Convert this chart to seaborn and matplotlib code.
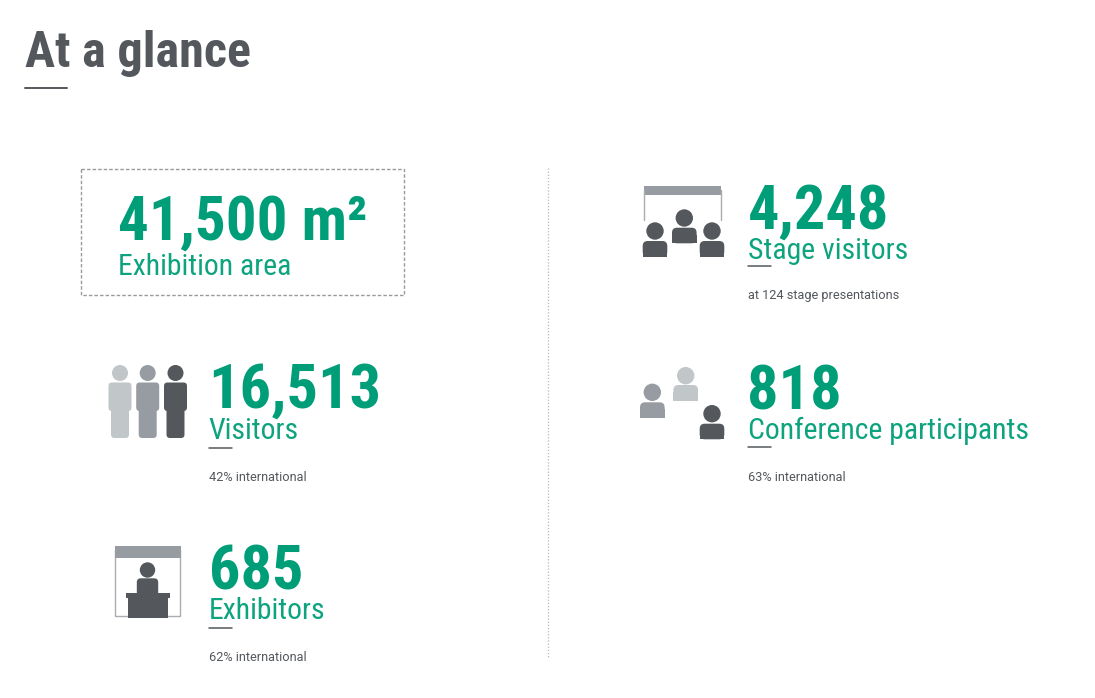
import seaborn as sns
import matplotlib.pyplot as plt
from matplotlib.patches import Circle, FancyBboxPatch, Rectangle

title = 'At a glance'
values = ['41,500 m²', '16,513', '685', '4,248', '818']
labels = ['Exhibition area', 'Visitors', 'Exhibitors', 'Stage visitors', 'Conference participants']
notes = ['', '42% international', '62% international', 'at 124 stage presentations', '63% international']

# x, number baseline, label baseline, underline y, note baseline, number size
layout = [(119, 240, 275, None, None, 44),
          (209, 408, 439, 447.7, 481, 44.8),
          (209, 589, 619, 627.7, 661, 44.8),
          (748, 229, 259, 265.7, 299, 44.8),
          (748, 410, 439, 447, 481, 44.8)]

green = '#009e78'
dark = '#54585c'
mid = '#969ca1'
light = '#c1c6c9'
narrow = ['Roboto Condensed', 'Roboto', 'DejaVu Sans']

sns.set_theme(style='white')
plt.rcParams['font.family'] = narrow

fig, ax = plt.subplots(figsize=(10.95, 6.98), dpi=100)
ax.set_position([0, 0, 1, 1])
ax.set_xlim(0.5, 1095.5)
ax.set_ylim(698, 0)
ax.set_xticks([])
ax.set_yticks([])
sns.despine(ax=ax, left=True, bottom=True)


def rounded(x0, x1, y0, y1, color, r=3):
    ax.add_patch(FancyBboxPatch((x0 + r, y0 + r), x1 - x0 - 2 * r, y1 - y0 - 2 * r,
                                boxstyle='round,pad=%g,rounding_size=%g' % (r, r), fc=color, ec='none'))


def person(cx, head_y, body_top, color):
    # bust icon, flat at the bottom
    ax.add_patch(Circle((cx, head_y), 8.7, fc=color, ec='none'))
    rounded(cx - 12.3, cx + 12.3, body_top, body_top + 15.6, color, r=5)
    ax.add_patch(Rectangle((cx - 12.3, body_top + 7), 24.6, 8.6, fc=color, ec='none'))


def standing(cx, color):
    ax.add_patch(Circle((cx, 373), 8, fc=color, ec='none'))
    rounded(cx - 11.5, cx + 11.5, 382.5, 411, color, r=3.5)
    rounded(cx - 9, cx + 9, 400, 438, color, r=3.5)


# header
ax.text(25.7, 67, title, fontsize=36.2, fontweight='bold', color=dark, va='baseline')
ax.plot([25.5, 67], [88, 88], color=dark, lw=1.4)

# dashed box and divider
ax.add_patch(Rectangle((81.5, 169), 323, 126, fc='none', ec='#9a9a9a', lw=1, ls=(0, (2.5, 1.5))))
ax.plot([548, 548], [168, 658], color='#b5b9bc', lw=0.9, ls=(0, (1, 1.5)))

# numbers and captions
for val, lab, note, (x, y_val, y_lab, y_line, y_note, size) in zip(values, labels, notes, layout):
    ax.text(x, y_val, val, fontsize=size, fontweight='bold', color=green, va='baseline')
    ax.text(x, y_lab, lab, fontsize=21.4, color=green, va='baseline', alpha=0.95)
    if y_line:
        ax.plot([x, x + 23], [y_line, y_line], color=dark, lw=1.1)
        ax.text(x + 0.5, y_note, note, fontsize=9.2, color=dark, va='baseline', family=['Roboto', 'DejaVu Sans'])

# visitors icon
for cx, c in zip([120.5, 148.2, 176], [light, mid, dark]):
    standing(cx, c)

# exhibitors icon
ax.add_patch(Rectangle((115.5, 550), 65, 65.7, fc='white', ec='#a9adb1', lw=1))
ax.add_patch(Rectangle((115, 546), 66, 11.7, fc=mid, ec='none'))
ax.add_patch(Circle((148, 570), 7.7, fc=dark, ec='none'))
rounded(137.3, 158.7, 578.3, 596, dark, r=4)
ax.add_patch(Rectangle((126, 592.7), 44, 5.3, fc=dark, ec='none'))
ax.add_patch(Rectangle((128, 598), 40, 20.3, fc=dark, ec='none'))

# stage icon
ax.plot([644.7, 644.7], [190, 220], color='#a9adb1', lw=1)
ax.plot([721, 721], [190, 220], color='#a9adb1', lw=1)
ax.add_patch(Rectangle((644, 186), 77.7, 9, fc=mid, ec='none'))
person(655.5, 231, 241, dark)
person(684.8, 218, 227.7, dark)
person(712.5, 231, 241, dark)

# conference icon
person(652.8, 392.3, 402.3, mid)
person(686.2, 375.7, 385, light)
person(712.5, 413.7, 423.7, dark)

fig.savefig('out.png', dpi=100, facecolor='white')
